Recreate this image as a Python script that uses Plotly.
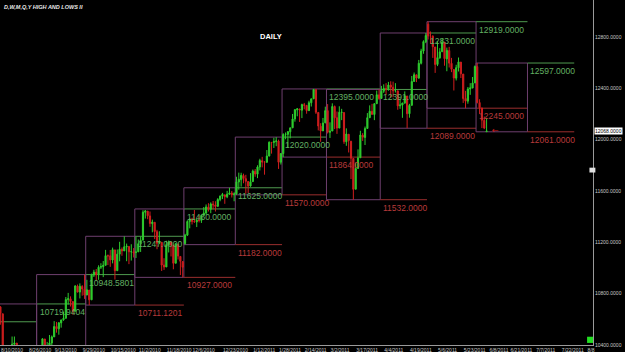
import plotly.graph_objects as go
import pandas as pd

# ---------------- trading calendar ----------------
holidays = ["2010-07-05", "2010-09-06", "2010-11-25", "2010-12-24", "2011-01-17",
            "2011-02-21", "2011-04-22", "2011-05-30", "2011-07-04"]
calendar = [d.strftime("%Y-%m-%d") for d in pd.bdate_range("2010-07-01", "2011-08-31")
            if d.strftime("%Y-%m-%d") not in holidays]
pos = {d: i for i, d in enumerate(calendar)}

first_day, last_day = "2010-08-02", "2011-06-07"
dates = calendar[calendar.index(first_day):calendar.index(last_day) + 1]

# ---------------- daily OHLC ----------------
opens = [
    # Aug 2010
    10468, 10673, 10636, 10679, 10674, 10654, 10697, 10643, 10377, 10319, 10302, 10303, 10406, 10415, 10270, 10215, 10172, 10039, 10060, 9986, 10149, 10007,
    # Sep
    10016, 10270, 10322, 10447, 10340, 10389, 10416, 10463, 10544, 10526, 10572, 10596, 10608, 10753, 10760, 10738, 10663, 10859, 10812, 10856, 10836,
    # Oct
    10789, 10828, 10752, 10945, 10968, 10948, 11006, 11010, 11021, 11095, 11095, 11062, 11141, 10979, 11108, 11146, 11133, 11164, 11168, 11127, 11127,
    # Nov
    11120, 11126, 11188, 11217, 11434, 11443, 11406, 11345, 11356, 11283, 11193, 11200, 11023, 11008, 11181, 11203, 11177, 11037, 11187, 11090, 11050,
    # Dec
    11190, 11256, 11361, 11381, 11362, 11359, 11373, 11371, 11410, 11428, 11475, 11457, 11498, 11491, 11480, 11533, 11560, 11570, 11555, 11575, 11584, 11570,
    # Jan 2011
    11577, 11670, 11688, 11720, 11696, 11673, 11639, 11673, 11754, 11731, 11787, 11836, 11823, 11823, 11872, 11978, 11978, 11985, 11989, 11824,
    # Feb
    11892, 12040, 12041, 12061, 12092, 12161, 12232, 12239, 12229, 12272, 12267, 12226, 12287, 12318, 12390, 12212, 12105, 12068, 12131,
    # Mar
    12226, 12057, 12067, 12258, 12171, 12090, 12212, 12211, 11983, 12042, 11988, 11853, 11614, 11775, 11859, 12035, 12017, 12087, 12171, 12221, 12196, 12280, 12349,
    # Apr
    12321, 12377, 12399, 12395, 12425, 12408, 12381, 12380, 12264, 12269, 12284, 12340, 12202, 12267, 12453, 12505, 12479, 12595, 12690, 12763,
    # May
    12900, 12807, 12806, 12722, 12586, 12637, 12685, 12759, 12629, 12694, 12595, 12546, 12479, 12560, 12604, 12511, 12321, 12300, 12394, 12402, 12442,
    # Jun
    12569, 12289, 12247, 12150, 12062,
]
highs = [
    10690, 10700, 10705, 10686, 10676, 10719.94, 10702, 10643, 10377, 10350, 10347, 10466, 10466, 10416, 10270, 10297, 10172, 10100, 10101, 10165, 10151, 10074,
    10282, 10328, 10452, 10447, 10424, 10478, 10474, 10586, 10580, 10578, 10598, 10659, 10774, 10806, 10779, 10738, 10866, 10871, 10880, 10866, 10948.58,
    10908, 10828, 10956, 10986, 10992, 11021, 11037, 11054, 11141, 11105, 11140, 11159, 11141, 11144, 11204, 11160, 11247, 11190, 11168, 11185, 11155,
    11244, 11222, 11245, 11450, 11451.53, 11443, 11440, 11377, 11356, 11297, 11286, 11200, 11076, 11212, 11214, 11203, 11177, 11194, 11187, 11090, 11050,
    11266, 11372, 11386, 11391, 11452, 11386, 11410, 11417, 11475, 11495, 11505, 11511, 11522, 11520, 11544, 11565, 11585, 11570, 11601, 11625, 11600, 11590,
    11711, 11743, 11742, 11735, 11726, 11677, 11739, 11767, 11771, 11800, 11851, 11866, 11833, 11919, 11986, 11982, 12015, 12020, 12000, 11893,
    12050, 12056, 12067, 12093, 12200, 12235, 12245, 12240, 12280, 12286, 12268, 12303, 12319, 12395, 12390, 12212, 12128, 12169, 12257,
    12277, 12135, 12283, 12266, 12219, 12260, 12240, 12211, 12088, 12042, 11988, 11853, 11821, 11924, 12069, 12051, 12102, 12207, 12267, 12279, 12283, 12382, 12391,
    12419, 12431, 12440, 12450, 12455, 12452, 12440, 12380, 12319, 12287, 12376, 12340, 12279, 12496, 12523, 12505, 12621, 12708, 12774, 12831,
    12919, 12843, 12813, 12722, 12766, 12713, 12792, 12759, 12717, 12723, 12637, 12546, 12583, 12640, 12604, 12511, 12380, 12410, 12440, 12488, 12578,
    12597, 12315, 12247, 12180, 12170,
]
lows = [
    10468, 10601, 10621, 10616, 10520, 10654, 10558, 10371, 10236, 10283, 10226, 10302, 10350, 10225, 10148, 10173, 9991, 9936, 9982, 9987, 10009, 9941,
    10016, 10250, 10322, 10332, 10339, 10389, 10396, 10463, 10496, 10480, 10535, 10589, 10607, 10715, 10700, 10636, 10663, 10811, 10763, 10784, 10759,
    10789, 10711.12, 10752, 10930, 10900, 10908, 10992, 10929, 11021, 11023, 11009, 11036, 10910, 10979, 11052, 11095, 11133, 11053, 11030, 11058, 11082,
    11078, 11124, 11125, 11217, 11385, 11380, 11321, 11278, 11225, 11146, 11192, 10977, 10985, 11008, 11121, 11090, 10990, 11037, 11066, 10945, 10927,
    11182, 11249, 11309, 11339, 11352, 11319, 11355, 11351, 11409, 11415, 11440, 11427, 11456, 11440, 11480, 11520, 11537, 11500, 11544, 11570, 11549, 11520,
    11570, 11610, 11634, 11660, 11578, 11584, 11633, 11673, 11711, 11700, 11760, 11784, 11727, 11823, 11870, 11891, 11935, 11949, 11772, 11806,
    11864, 12003, 11938, 12010, 12092, 12140, 12182, 12138, 12168, 12236, 12202, 12223, 12258, 12317, 12200, 12072, 11983, 12068, 12128,
    12048, 12013, 12067, 12082, 12045, 12090, 12152, 11967, 11952, 11900, 11693, 11532, 11614, 11775, 11859, 11990, 11958, 12087, 12171, 12192, 12152, 12280, 12310,
    12321, 12364, 12348, 12381, 12331, 12330, 12367, 12233, 12240, 12170, 12284, 12089, 12171, 12267, 12453, 12448, 12477, 12586, 12669, 12752,
    12780, 12746, 12637, 12520, 12573, 12631, 12685, 12576, 12533, 12562, 12526, 12383, 12461, 12531, 12480, 12286, 12245, 12280, 12349, 12402, 12442,
    12282, 12200, 12090, 12082, 12061,
]
closes = [
    10674, 10636, 10680, 10675, 10654, 10698, 10644, 10379, 10320, 10303, 10302, 10406, 10416, 10271, 10213, 10175, 10041, 10060, 9986, 10150, 10010, 10015,
    10270, 10321, 10448, 10341, 10388, 10416, 10463, 10544, 10527, 10573, 10595, 10608, 10754, 10761, 10739, 10662, 10860, 10812, 10858, 10836, 10788,
    10830, 10752, 10945, 10968, 10948, 11006, 11011, 11021, 11096, 11095, 11063, 11143, 10979, 11108, 11146, 11133, 11165, 11170, 11126, 11127, 11118,
    11125, 11189, 11216, 11435, 11445, 11407, 11347, 11358, 11284, 11193, 11202, 11023, 11008, 11182, 11204, 11178, 11037, 11188, 11093, 11052, 11006,
    11256, 11362, 11382, 11362, 11360, 11373, 11370, 11410, 11428, 11476, 11457, 11499, 11492, 11479, 11533, 11560, 11574, 11555, 11575, 11585, 11570, 11578,
    11671, 11691, 11722, 11697, 11675, 11638, 11672, 11755, 11732, 11787, 11837, 11825, 11823, 11872, 11980, 11978, 11985, 11990, 11824, 11892,
    12040, 12042, 12062, 12092, 12161, 12234, 12240, 12230, 12273, 12268, 12226, 12288, 12318, 12391, 12213, 12106, 12068, 12130, 12226,
    12058, 12066, 12258, 12170, 12090, 12214, 12213, 11984, 12044, 11993, 11855, 11613, 11775, 11858, 12036, 12019, 12086, 12171, 12221, 12198, 12280, 12350, 12320,
    12377, 12400, 12394, 12426, 12409, 12380, 12382, 12263, 12270, 12285, 12342, 12202, 12267, 12453, 12506, 12480, 12595, 12691, 12764, 12811,
    12808, 12807, 12724, 12585, 12639, 12684, 12761, 12631, 12696, 12596, 12548, 12480, 12561, 12606, 12513, 12320, 12300, 12395, 12403, 12442, 12570,
    12290, 12248, 12152, 12090, 12068,
]
assert len(opens) == len(highs) == len(lows) == len(closes) == len(dates), (len(opens), len(highs), len(lows), len(closes), len(dates))

# ---------------- monthly highs / lows (boxes + labels) ----------------
months = ["2010-07", "2010-08", "2010-09", "2010-10", "2010-11", "2010-12",
          "2011-01", "2011-02", "2011-03", "2011-04", "2011-05", "2011-06"]
month_high = [10581.0, 10719.9404, 10948.5801, 11247.0, 11460.0, 11625.0,
              12020.0, 12395.0, 12391.0, 12831.0, 12919.0, 12597.0]
month_low = [9614.0, 9936.0, 10010.0, 10711.1201, 10927.0, 11182.0,
             11570.0, 11864.0, 11532.0, 12089.0, 12245.0, 12061.0]
all_months = months + ["2011-07", "2011-08"]

# ---------------- axis labels ----------------
tick_dates = ["2010-08-10", "2010-08-26", "2010-09-13", "2010-09-29", "2010-10-15", "2010-11-02",
              "2010-11-18", "2010-12-06", "2010-12-23", "2011-01-12", "2011-01-28", "2011-02-14",
              "2011-03-02", "2011-03-17", "2011-04-04", "2011-04-19", "2011-05-06", "2011-05-23",
              "2011-06-08", "2011-06-21", "2011-07-07", "2011-07-22", "2011-08-08"]
tick_text = ["8/10/2010", "8/26/2010", "9/13/2010", "9/29/2010", "10/15/2010", "11/2/2010",
             "11/18/2010", "12/6/2010", "12/23/2010", "1/12/2011", "1/28/2011", "2/14/2011",
             "3/2/2011", "3/17/2011", "4/4/2011", "4/19/2011", "5/6/2011", "5/23/2011",
             "6/8/2011", "6/21/2011", "7/7/2011", "7/22/2011", "8/8"]
price_ticks = [10400, 10800, 11200, 11600, 12000, 12400, 12800]

GREEN = "#2ecc2e"
RED = "#d01e1e"
BOX = "#6e3f6e"
LINE_G = "#4f9a4f"
LINE_R = "#9a2e2e"
TXT_G = "#62b062"
TXT_R = "#b83a3a"

xs = [pos[d] for d in dates]

fig = go.Figure()
fig.add_trace(go.Candlestick(
    x=xs, open=opens, high=highs, low=lows, close=closes,
    increasing=dict(line=dict(color=GREEN, width=1), fillcolor=GREEN),
    decreasing=dict(line=dict(color=RED, width=1), fillcolor=RED),
    whiskerwidth=0, showlegend=False, hoverinfo="skip",
))

month_start = {}
for m in all_months:
    month_start[m] = next(pos[d] for d in calendar if d.startswith(m)) - 0.5

shapes = []
annotations = []
for i, m in enumerate(months):
    x0 = month_start[m]
    x1 = month_start[all_months[i + 1]]
    # monthly range box
    shapes.append(dict(type="rect", xref="x", yref="y", x0=x0, x1=x1,
                       y0=month_low[i], y1=month_high[i],
                       line=dict(color=BOX, width=1), layer="below"))
    # previous-month high / low carried into next month
    nx0 = x1
    nx1 = month_start[all_months[i + 2]]
    shapes.append(dict(type="line", xref="x", yref="y", x0=nx0, x1=nx1,
                       y0=month_high[i], y1=month_high[i],
                       line=dict(color=LINE_G, width=1), layer="below"))
    shapes.append(dict(type="line", xref="x", yref="y", x0=nx0, x1=nx1,
                       y0=month_low[i], y1=month_low[i],
                       line=dict(color=LINE_R, width=1), layer="below"))
    annotations.append(dict(x=nx0 + 0.4, y=month_high[i], xref="x", yref="y",
                            text=f"{month_high[i]:.4f}", showarrow=False,
                            xanchor="left", yanchor="top", yshift=-1,
                            font=dict(family="Liberation Sans", size=8.5, color=TXT_G)))
    annotations.append(dict(x=nx0 + 0.4, y=month_low[i], xref="x", yref="y",
                            text=f"{month_low[i]:.4f}", showarrow=False,
                            xanchor="left", yanchor="top", yshift=-1,
                            font=dict(family="Liberation Sans", size=8.5, color=TXT_R)))

last_close = closes[-1]
annotations += [
    dict(x=0.004, y=0.995, xref="paper", yref="paper", text="D,W,M,Q,Y HIGH AND LOWS II",
         showarrow=False, xanchor="left", yanchor="top",
         font=dict(family="Liberation Sans", size=5.5, color="#e8e8e8", style="italic", weight="bold")),
    dict(x=0.457, y=0.893, xref="paper", yref="paper", text="<b>DAILY</b>",
         showarrow=False, xanchor="center", yanchor="middle",
         font=dict(family="Liberation Sans", size=7.5, color="#ffffff")),
    dict(x=1.0, y=last_close, xref="paper", yref="y", text=f"{last_close:.4f}",
         showarrow=False, xanchor="left", yanchor="middle", xshift=1,
         bgcolor="#ffffff", borderpad=0,
         font=dict(family="Liberation Sans", size=5, color="#000000")),
    dict(x=xs[-1] + 1.5, y=last_close, xref="x", yref="y", text="←",
         showarrow=False, xanchor="left", yanchor="middle",
         font=dict(family="DejaVu Sans", size=8, color=RED)),
]

# small platform markers near the price scale
shapes += [
    dict(type="rect", xref="paper", yref="paper", x0=0.990, x1=1.0, y0=0.006, y1=0.024,
         fillcolor="#22dd22", line=dict(width=0)),
    dict(type="rect", xref="paper", yref="paper", x0=0.994, x1=1.004, y0=0.500, y1=0.514,
         fillcolor="#e0e0e0", line=dict(width=0)),
]

x_left = pos["2010-08-10"] - 0.17
fig.update_layout(
    width=625, height=352,
    margin=dict(l=0, r=32, t=0, b=7),
    paper_bgcolor="#000000", plot_bgcolor="#000000",
    shapes=shapes, annotations=annotations,
    showlegend=False,
    xaxis=dict(range=[x_left, x_left + 253.7], rangeslider=dict(visible=False),
               tickvals=[pos[d] for d in tick_dates], ticktext=tick_text,
               ticklabelposition="outside right", ticks="", tickangle=0, automargin=False,
               tickfont=dict(family="Liberation Sans", size=5, color="#c8c8c8"),
               showgrid=False, zeroline=False, showline=True, linecolor="#9a9a9a", linewidth=1),
    yaxis=dict(range=[10400, 13088], side="right", automargin=False,
               tickvals=price_ticks, ticktext=[f"{v:.4f}" for v in price_ticks],
               ticks="", tickfont=dict(family="Liberation Sans", size=5, color="#c8c8c8"),
               showgrid=False, zeroline=False, showline=True, linecolor="#9a9a9a", linewidth=1),
)

fig.write_html("out.html")
